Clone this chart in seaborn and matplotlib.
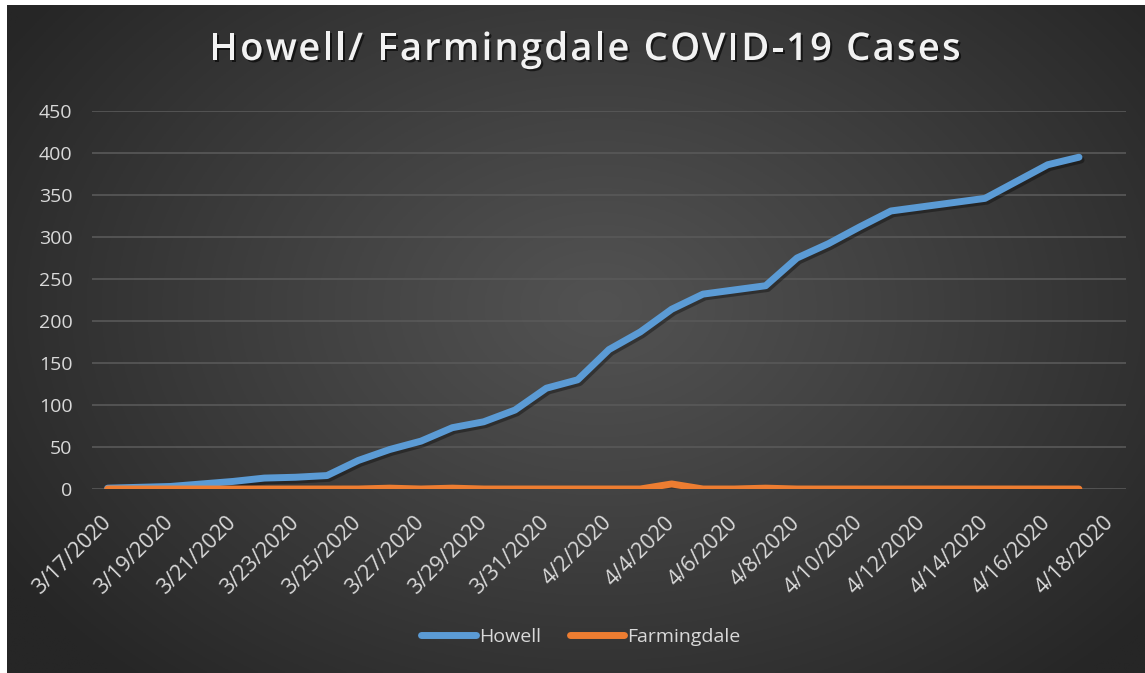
import numpy as np
import pandas as pd
import matplotlib
matplotlib.use("Agg")
import matplotlib.pyplot as plt
import matplotlib.patheffects as pe
from matplotlib.lines import Line2D
import seaborn as sns

# ---- data ----
data_dates = ["3/17/2020", "3/18/2020", "3/19/2020", "3/20/2020", "3/21/2020", "3/22/2020",
              "3/23/2020", "3/24/2020", "3/25/2020", "3/26/2020", "3/27/2020", "3/28/2020",
              "3/29/2020", "3/30/2020", "3/31/2020", "4/1/2020", "4/2/2020", "4/3/2020",
              "4/4/2020", "4/5/2020", "4/6/2020", "4/7/2020", "4/8/2020", "4/9/2020",
              "4/10/2020", "4/11/2020", "4/12/2020", "4/13/2020", "4/14/2020", "4/15/2020",
              "4/16/2020", "4/17/2020"]
howell = [1, 2, 3, 6, 9, 13, 14, 16, 34, 47, 57, 73, 80, 94, 120, 130, 166, 187,
          214, 232, 237, 242, 275, 292, 312, 331, 336, 341, 346, 366, 386, 395]
farmingdale = [0, 0, 0, 0, 0, 0, 0, 0, 0, 1, 0, 1, 0, 0, 0, 0, 0, 0,
               6, 0, 0, 1, 0, 0, 0, 0, 0, 0, 0, 0, 0, 0]
tick_labels = ["3/17/2020", "3/19/2020", "3/21/2020", "3/23/2020", "3/25/2020", "3/27/2020",
               "3/29/2020", "3/31/2020", "4/2/2020", "4/4/2020", "4/6/2020", "4/8/2020",
               "4/10/2020", "4/12/2020", "4/14/2020", "4/16/2020", "4/18/2020"]
y_ticks = [0, 50, 100, 150, 200, 250, 300, 350, 400, 450]
series_colors = {"Howell": "#5B9BD5", "Farmingdale": "#ED7D31"}
title = "Howell/ Farmingdale COVID-19 Cases"

df = pd.DataFrame({"day": np.arange(len(data_dates)), "Howell": howell, "Farmingdale": farmingdale})
long_df = df.melt(id_vars="day", var_name="series", value_name="cases")

sns.set_theme(style="dark")
plt.rcParams['font.family'] = ['Open Sans', 'DejaVu Sans']

W, H = 1145, 673
fig = plt.figure(figsize=(W / 100, H / 100), dpi=100)
fig.patch.set_facecolor("white")

# background gradient panel
bg = fig.add_axes([7 / W, 0, 1 - 7 / W, 1 - 5 / H])
bg.set_axis_off()
ny, nx = 300, 500
yy, xx = np.mgrid[0:ny, 0:nx]
cx, cy = nx * 0.52, ny * 0.45
r = np.sqrt(((xx - cx) / (nx * 0.62)) ** 2 + ((yy - cy) / (ny * 0.75)) ** 2)
r = np.clip(r, 0, 1)
inner, outer = 0x52 / 255, 0x26 / 255
val = inner + (outer - inner) * r ** 1.1
img = np.dstack([val, val, val])
bg.imshow(img, aspect="auto", extent=[0, 1, 0, 1], origin="upper")
bg.set_xlim(0, 1)
bg.set_ylim(0, 1)

ax = fig.add_axes([92 / W, 1 - 489 / H, (1126 - 92) / W, (489 - 111) / H])
ax.set_facecolor("none")

sns.lineplot(data=long_df, x="day", y="cases", hue="series", palette=series_colors,
             hue_order=["Howell", "Farmingdale"], linewidth=5, ax=ax, legend=False)
for ln in ax.lines:
    ln.set_solid_capstyle("round")
    ln.set_solid_joinstyle("round")
    ln.set_path_effects([pe.SimpleLineShadow(offset=(1.5, -2), shadow_color="black", alpha=0.35),
                         pe.Normal()])

ax.set_xlim(-0.5, len(data_dates) + 0.5)
ax.set_ylim(0, 450)
ax.set_yticks(y_ticks)
ax.set_yticklabels([str(v) for v in y_ticks])
ax.set_xticks(np.arange(0, len(data_dates) + 1, 2))
ax.set_xticklabels(tick_labels, rotation=45, ha="right", va="center", rotation_mode="anchor")
ax.tick_params(axis="both", length=0, colors="#d9d9d9", labelsize=14)
ax.tick_params(axis="y", pad=14)
ax.tick_params(axis="x", pad=22)
for lab in ax.get_xticklabels():
    lab.set_fontsize(15.5)
ax.set_xlabel("")
ax.set_ylabel("")
for s in ax.spines.values():
    s.set_visible(False)
ax.yaxis.grid(True, color="#595959", linewidth=1.2)
ax.xaxis.grid(False)
ax.set_axisbelow(True)

# title with extra letter spacing
fig.canvas.draw()
renderer = fig.canvas.get_renderer()
title_kw = dict(color="#f2f2f2", fontsize=27.5, fontweight="semibold", va="center", ha="left",
                path_effects=[pe.SimplePatchShadow(offset=(1.5, -1.5), shadow_rgbFace="black", alpha=0.6),
                              pe.Normal()])
tracking = 2.2  # pixels between characters
widths = []
probe = fig.text(0, 0, "", **title_kw)
for i in range(len(title)):
    probe.set_text(title[: i + 1].replace(" ", "\u00a0"))
    widths.append(probe.get_window_extent(renderer).width)
probe.remove()
adv = np.diff([0] + widths)
total = widths[-1] + tracking * (len(title) - 1)
x0 = 585 - total / 2
cum = 0.0
for i, ch in enumerate(title):
    if ch != " ":
        fig.text((x0 + cum + tracking * i) / W, 1 - 50 / H, ch, **title_kw)
    cum += adv[i]

handles = [Line2D([0], [0], color=series_colors[k], linewidth=5, solid_capstyle="round")
           for k in ["Howell", "Farmingdale"]]
leg = fig.legend(handles, ["Howell", "Farmingdale"], loc="center", bbox_to_anchor=(581 / W, 1 - 637 / H),
                 ncol=2, frameon=False, handlelength=2.8, handletextpad=0.15, columnspacing=1.5,
                 fontsize=14)
for t in leg.get_texts():
    t.set_color("#d9d9d9")

fig.savefig("out.png", dpi=100, facecolor=fig.get_facecolor())
